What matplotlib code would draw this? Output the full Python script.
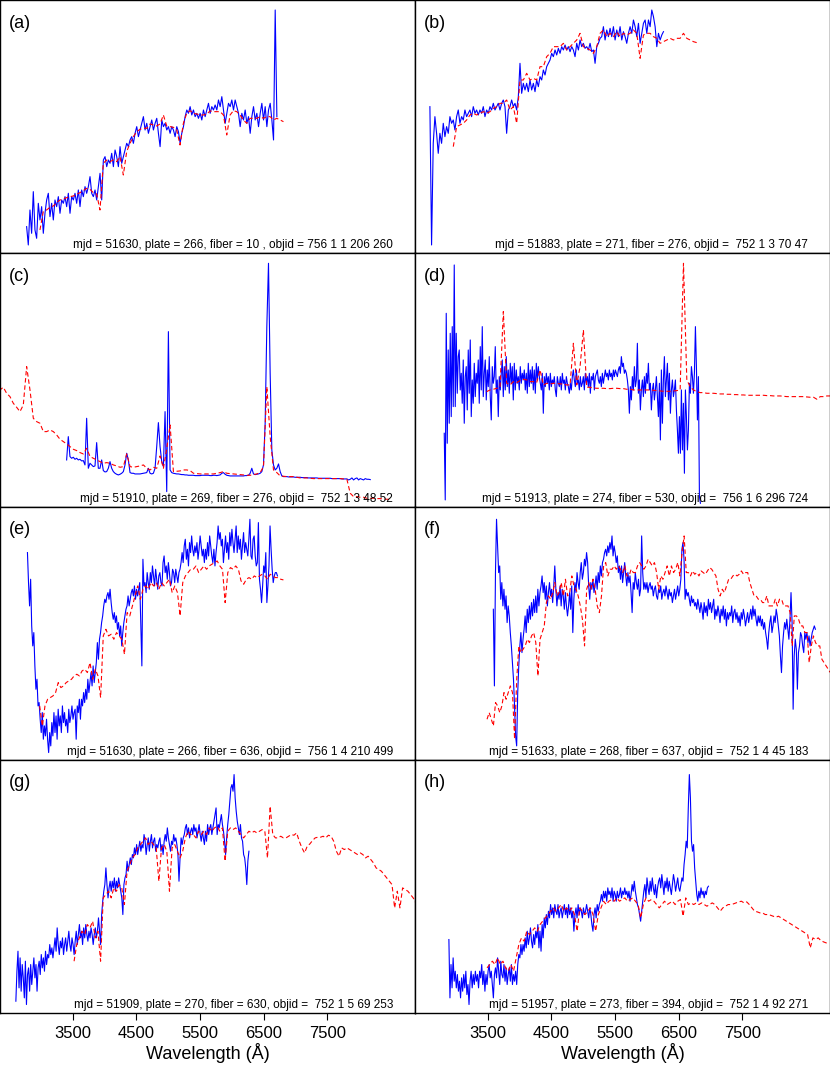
import numpy as np
import matplotlib.pyplot as plt

plt.rcParams['font.family'] = ['Liberation Sans', 'DejaVu Sans']

# Spectra: blue = observed, red = template. Flux in arbitrary units,
# wavelength grid given by start (Angstrom) and step per pixel sample.

# (a)
a_blue_start, a_blue_step = 2777, 26.19
a_blue = [80, 25, 130, 60, 185, 70, 45, 150, 100, 140, 60, 120, 160, 180, 110, 150, 100, 160, 140, 170,
          120, 160, 150, 170, 140, 180, 120, 170, 160, 180, 150, 190, 140, 190, 170, 200, 180, 200, 230, 180,
          170, 190, 160, 200, 240, 160, 280, 290, 260, 280, 270, 300, 260, 310, 290, 260, 320, 270, 290, 310,
          330, 320, 340, 350, 330, 360, 380, 350, 370, 390, 410, 370, 390, 360, 380, 400, 370, 390, 405, 360,
          320, 400, 380, 390, 370, 380, 360, 380, 370, 350, 380, 365, 330, 360, 380, 410, 430, 420, 440, 415,
          430, 410, 420, 405, 420, 400, 430, 410, 430, 450, 420, 440, 430, 445, 430, 460, 440, 470, 430, 390,
          420, 450, 440, 460, 430, 460, 440, 420, 380, 420, 400, 430, 390, 410, 360, 410, 440, 400, 420, 380,
          420, 450, 400, 440, 380, 430, 450, 400, 340, 730, 410]
a_red_start, a_red_step = 2986, 52.37
a_red = [70, 125, 130, 138, 142, 152, 160, 162, 167, 170, 172, 177, 182, 188, 195, 192, 182, 178, 130, 270,
         280, 275, 280, 275, 290, 235, 305, 330, 350, 365, 372, 375, 375, 388, 385, 382, 388, 415, 382, 380,
         378, 370, 325, 390, 420, 428, 420, 418, 415, 415, 418, 427, 425, 425, 425, 415, 355, 415, 428, 425,
         415, 400, 390, 405, 405, 405, 410, 405, 410, 410, 400, 405, 400, 395]

# (b)
b_blue_start, b_blue_step = 2593, 26.19
b_blue = [440, 25, 330, 410, 360, 300, 360, 330, 390, 350, 380, 360, 410, 390, 400, 370, 410, 430, 390, 410,
          400, 430, 410, 420, 430, 410, 440, 420, 430, 415, 430, 420, 440, 410, 430, 420, 440, 430, 450, 430,
          440, 450, 430, 450, 460, 440, 360, 430, 440, 460, 440, 450, 430, 470, 570, 480, 510, 490, 510, 485,
          520, 490, 510, 485, 520, 500, 530, 520, 550, 535, 560, 570, 580, 600, 590, 610, 595, 615, 600, 620,
          610, 625, 610, 620, 605, 620, 610, 590, 630, 610, 640, 620, 630, 615, 620, 610, 630, 605, 610, 570,
          620, 630, 645, 650, 680, 640, 670, 650, 675, 650, 680, 640, 670, 650, 680, 640, 665, 650, 630, 660,
          680, 660, 700, 680, 650, 690, 630, 660, 690, 700, 660, 700, 680, 730, 710, 680, 620, 660, 640, 655,
          665]
b_red_start, b_red_step = 2960, 52.37
b_red = [320, 380, 385, 390, 400, 415, 420, 415, 420, 425, 420, 425, 435, 440, 450, 450, 460, 430, 440, 390,
         520, 520, 540, 520, 525, 520, 560, 560, 590, 600, 620, 620, 620, 630, 610, 620, 630, 640, 660, 620,
         615, 610, 600, 620, 660, 670, 650, 660, 650, 665, 650, 660, 655, 660, 670, 660, 585, 655, 660, 660,
         650, 645, 630, 635, 640, 645, 640, 645, 645, 660, 645, 640, 635, 632]

# (c)
c_blue_start, c_blue_step = 3405, 26.19
c_blue = [140, 210, 150, 145, 148, 142, 145, 140, 142, 137, 138, 125, 265, 115, 130, 125, 120, 122, 192, 115,
          115, 140, 108, 104, 105, 115, 135, 115, 105, 100, 97, 95, 97, 100, 105, 125, 160, 140, 102, 100,
          100, 98, 98, 98, 98, 99, 100, 101, 102, 115, 100, 98, 100, 115, 180, 252, 180, 135, 120, 285,
          45, 525, 110, 102, 100, 99, 98, 98, 97, 96, 96, 95, 95, 94, 94, 94, 94, 93, 93, 93,
          93, 94, 94, 94, 94, 94, 93, 93, 94, 94, 93, 94, 95, 100, 102, 97, 94, 93, 92, 92,
          92, 92, 92, 92, 92, 92, 92, 93, 93, 94, 100, 115, 98, 96, 97, 98, 100, 105, 125, 250,
          540, 730, 400, 170, 125, 110, 115, 128, 105, 92, 90, 90, 90, 89, 89, 89, 89, 88, 88, 88,
          88, 87, 87, 87, 87, 86, 86, 86, 86, 86, 86, 85, 85, 85, 85, 85, 85, 85, 85, 84,
          84, 84, 84, 84, 84, 83, 83, 83, 83, 80, 82, 86, 80, 84, 86, 80, 84, 82, 80, 84,
          82, 82, 81]
c_red_start, c_red_step = 2306, 52.37
c_red = [355, 350, 358, 340, 330, 310, 298, 285, 305, 420, 350, 265, 255, 250, 225, 225, 230, 225, 215, 202,
         195, 188, 180, 172, 168, 162, 158, 175, 150, 145, 140, 135, 130, 132, 130, 125, 122, 118, 120, 158,
         120, 118, 120, 122, 125, 115, 110, 118, 115, 152, 115, 175, 245, 105, 106, 107, 110, 110, 108, 100,
         99, 98, 98, 98, 98, 98, 100, 102, 105, 100, 99, 98, 97, 96, 95, 94, 94, 96, 98, 102,
         120, 360, 210, 110, 102, 92, 91, 90, 90, 90, 88, 86, 86, 86, 85, 84, 84, 84, 84, 84,
         84, 84, 84, 84, 83, 82, 40, 30, 30, 28, 28, 25, 25, 25, 24, 24, 23, 22, 22]

# (d)
d_blue_start, d_blue_step = 2818, 15.71
d_blue = [220, 20, 580, 190, 470, 250, 520, 270, 540, 300, 725, 300, 520, 340, 450, 470, 350, 400, 310, 440,
          250, 390, 420, 290, 470, 340, 500, 270, 380, 310, 430, 330, 400, 370, 440, 310, 480, 350, 540, 330,
          400, 440, 320, 410, 360, 450, 330, 260, 420, 370, 390, 480, 340, 380, 270, 390, 350, 400, 440, 330,
          420, 350, 450, 360, 410, 340, 430, 370, 420, 320, 430, 350, 410, 370, 390, 350, 420, 370, 400, 380,
          410, 350, 400, 340, 430, 360, 410, 370, 420, 350, 410, 340, 430, 380, 420, 390, 370, 350, 400, 280,
          390, 360, 400, 370, 390, 350, 400, 360, 380, 370, 390, 350, 330, 390, 370, 360, 390, 350, 400, 370,
          380, 350, 390, 370, 360, 340, 370, 350, 390, 410, 380, 360, 410, 370, 380, 350, 390, 360, 370, 390,
          350, 400, 370, 390, 360, 400, 340, 390, 380, 400, 350, 390, 400, 410, 380, 370, 390, 360, 400, 370,
          390, 410, 390, 400, 380, 410, 390, 400, 380, 410, 390, 410, 400, 390, 410, 420, 400, 450, 420, 430,
          400, 410, 400, 380, 350, 280, 360, 320, 390, 350, 420, 360, 380, 490, 340, 380, 290, 350, 380, 330,
          390, 340, 400, 370, 430, 350, 370, 290, 350, 370, 320, 350, 390, 330, 270, 370, 200, 410, 250, 380,
          450, 330, 380, 430, 320, 400, 280, 350, 380, 330, 350, 380, 290, 230, 160, 270, 160, 350, 170, 310,
          100, 350, 270, 170, 230, 370, 340, 420, 390, 340, 400, 540, 420, 260, 390, 30, 10]
d_red_start, d_red_step = 3484, 52.37
d_red = [345, 350, 352, 355, 358, 585, 370, 365, 375, 372, 378, 382, 380, 375, 375, 372, 410, 365, 370, 368,
         370, 370, 368, 368, 365, 365, 490, 365, 420, 530, 358, 358, 356, 355, 355, 355, 354, 354, 355, 355,
         354, 354, 352, 352, 350, 350, 350, 350, 350, 350, 349, 348, 347, 346, 346, 346, 347, 348, 350, 730,
         380, 360, 350, 345, 342, 342, 340, 340, 340, 339, 338, 338, 337, 337, 336, 336, 335, 335, 334, 334,
         334, 334, 334, 334, 333, 333, 332, 332, 332, 331, 330, 330, 330, 330, 330, 330, 329, 328, 328, 322,
         330, 330, 332, 332, 332]

# (e)
e_blue_start, e_blue_step = 2790, 16.63
e_blue = [622, 532, 462, 542, 402, 342, 382, 282, 212, 242, 162, 172, 122, 82, 142, 62, 102, 72, 122, 62,
          22, 82, 42, 112, 72, 142, 82, 132, 62, 152, 102, 132, 82, 162, 112, 142, 102, 122, 82, 152,
          112, 132, 162, 122, 142, 152, 62, 162, 142, 182, 122, 182, 162, 202, 172, 212, 182, 242, 202, 232,
          262, 222, 282, 232, 262, 292, 352, 302, 362, 382, 412, 432, 462, 482, 472, 492, 502, 482, 512, 472,
          442, 422, 442, 412, 432, 392, 412, 372, 402, 342, 382, 412, 432, 452, 462, 492, 462, 482, 502, 512,
          492, 522, 482, 512, 492, 512, 532, 412, 282, 602, 522, 532, 502, 562, 532, 512, 562, 532, 582, 552,
          522, 572, 542, 512, 552, 562, 532, 522, 592, 612, 562, 582, 542, 592, 562, 522, 532, 572, 562, 532,
          572, 552, 532, 562, 572, 592, 622, 592, 642, 662, 602, 632, 582, 652, 622, 672, 632, 612, 642, 622,
          652, 602, 632, 672, 642, 612, 632, 592, 632, 602, 652, 612, 672, 642, 612, 592, 632, 582, 622, 652,
          702, 662, 682, 642, 662, 592, 632, 672, 622, 652, 602, 682, 642, 692, 652, 622, 662, 702, 622, 672,
          632, 662, 602, 642, 682, 622, 652, 632, 612, 662, 722, 612, 602, 662, 672, 612, 582, 592, 712, 542,
          512, 472, 522, 582, 562, 622, 472, 522, 582, 702, 632, 572, 532, 552, 562, 562, 552]
e_red_start, e_red_step = 2982, 41.59
e_red = [162, 102, 162, 182, 187, 192, 202, 232, 217, 222, 232, 237, 242, 252, 257, 252, 267, 272, 262, 292,
         242, 272, 252, 187, 372, 392, 372, 377, 362, 382, 372, 362, 317, 442, 432, 462, 492, 522, 482, 512,
         522, 512, 532, 522, 532, 512, 532, 522, 532, 542, 502, 522, 502, 432, 532, 552, 562, 572, 572, 582,
         562, 572, 582, 572, 582, 587, 592, 597, 582, 572, 472, 562, 577, 572, 582, 572, 537, 527, 542, 547,
         542, 552, 547, 552, 557, 552, 542, 557, 552, 547, 547, 542, 540]

# (f)
f_blue_start, f_blue_step = 3589, 16.63
f_blue = [452, 222, 562, 722, 642, 562, 582, 482, 532, 462, 512, 452, 492, 412, 462, 432, 382, 342, 292, 242,
          162, 72, 42, 202, 282, 342, 382, 322, 362, 392, 432, 382, 452, 412, 462, 422, 472, 432, 482, 442,
          492, 442, 512, 462, 502, 522, 552, 502, 532, 482, 522, 462, 502, 532, 492, 512, 472, 522, 582, 512,
          462, 502, 482, 522, 462, 512, 492, 452, 502, 462, 432, 462, 502, 452, 522, 382, 482, 532, 502, 562,
          532, 512, 562, 592, 542, 562, 602, 582, 622, 592, 522, 482, 532, 512, 542, 502, 522, 552, 512, 562,
          532, 582, 552, 592, 602, 622, 632, 612, 642, 622, 652, 632, 672, 612, 642, 622, 592, 612, 562, 582,
          542, 582, 532, 562, 592, 552, 522, 562, 532, 552, 502, 442, 532, 512, 562, 532, 512, 542, 492, 512,
          672, 562, 512, 532, 512, 532, 502, 522, 532, 512, 522, 492, 512, 522, 492, 482, 512, 502, 522, 482,
          502, 512, 492, 522, 502, 482, 512, 492, 502, 472, 492, 512, 482, 502, 522, 492, 512, 542, 632, 652,
          602, 482, 512, 492, 502, 482, 462, 492, 472, 482, 462, 472, 452, 482, 462, 442, 472, 452, 422, 472,
          442, 462, 432, 482, 452, 472, 442, 462, 482, 422, 452, 432, 462, 442, 412, 452, 432, 462, 422, 452,
          402, 442, 422, 442, 432, 462, 412, 442, 452, 422, 442, 412, 432, 402, 442, 422, 452, 432, 402, 422,
          442, 412, 432, 452, 422, 462, 432, 452, 422, 402, 432, 412, 432, 402, 422, 392, 412, 382, 362, 332,
          382, 412, 432, 382, 402, 432, 412, 452, 432, 402, 372, 312, 262, 342, 382, 412, 392, 422, 392, 362,
          422, 502, 412, 152, 312, 362, 332, 212, 322, 342, 382, 372, 342, 322, 382, 362, 382, 352, 372, 342,
          362, 382, 392, 402, 392]
f_red_start, f_red_step = 3490, 33.27
f_red = [122, 142, 122, 102, 172, 162, 142, 162, 202, 182, 202, 222, 202, 62, 242, 342, 322, 332, 342, 362,
         352, 372, 382, 352, 252, 362, 382, 402, 472, 492, 482, 502, 532, 492, 502, 532, 492, 542, 492, 502,
         552, 522, 512, 492, 462, 422, 342, 512, 532, 512, 542, 512, 462, 442, 492, 582, 592, 552, 572, 572,
         582, 572, 582, 572, 562, 582, 552, 552, 572, 562, 562, 582, 592, 582, 572, 582, 602, 592, 582, 592,
         562, 512, 552, 542, 562, 582, 552, 582, 562, 572, 592, 552, 622, 672, 562, 562, 552, 567, 557, 562,
         552, 567, 562, 557, 567, 577, 572, 562, 552, 512, 492, 512, 502, 522, 542, 542, 552, 557, 552, 557,
         567, 557, 562, 562, 532, 512, 492, 492, 482, 482, 472, 472, 492, 462, 462, 462, 482, 462, 482, 482,
         462, 462, 462, 442, 342, 432, 432, 422, 402, 402, 382, 382, 292, 342, 372, 352, 342, 342, 302, 292,
         282, 272, 262]

# (g)
g_blue_start, g_blue_step = 2608, 16.63
g_blue = [36, 126, 186, 76, 166, 66, 146, 106, 46, 156, 26, 116, 136, 66, 146, 86, 126, 166, 106, 146,
          66, 136, 156, 116, 176, 136, 166, 126, 186, 146, 176, 166, 206, 176, 196, 166, 196, 226, 186, 256,
          206, 176, 216, 196, 226, 176, 206, 226, 186, 216, 246, 206, 186, 226, 206, 176, 216, 246, 206, 236,
          266, 226, 246, 206, 256, 226, 266, 236, 216, 246, 226, 256, 236, 206, 236, 256, 226, 246, 286, 246,
          206, 296, 336, 366, 386, 436, 386, 346, 376, 396, 366, 396, 376, 406, 366, 396, 376, 406, 386, 366,
          346, 296, 386, 406, 416, 456, 426, 446, 466, 446, 476, 466, 496, 476, 506, 476, 496, 516, 486, 506,
          496, 536, 516, 476, 506, 526, 486, 516, 536, 496, 516, 526, 486, 506, 496, 516, 526, 486, 506, 476,
          516, 536, 516, 556, 526, 506, 486, 516, 506, 536, 516, 526, 506, 476, 396, 466, 526, 506, 526, 536,
          556, 566, 536, 556, 526, 546, 556, 536, 566, 546, 556, 526, 546, 566, 536, 516, 546, 526, 506, 546,
          516, 566, 536, 556, 566, 536, 556, 576, 596, 616, 536, 566, 556, 576, 596, 566, 546, 516, 476, 526,
          566, 596, 636, 676, 686, 666, 716, 646, 606, 576, 556, 536, 566, 526, 516, 476, 466, 436, 386, 456,
          486]
g_red_start, g_red_step = 3522, 41.59
g_red = [156, 206, 226, 246, 236, 266, 256, 276, 226, 246, 156, 346, 356, 366, 346, 376, 366, 386, 376, 326,
         426, 446, 466, 476, 496, 506, 516, 526, 506, 516, 506, 496, 396, 496, 506, 486, 366, 496, 506, 486,
         466, 486, 526, 546, 536, 536, 526, 546, 536, 546, 536, 556, 546, 556, 561, 546, 556, 456, 546, 556,
         551, 556, 546, 536, 526, 536, 546, 541, 546, 541, 546, 551, 546, 466, 621, 536, 526, 526, 531, 526,
         526, 531, 536, 534, 541, 516, 496, 481, 501, 508, 518, 526, 528, 528, 531, 526, 534, 531, 516, 486,
         471, 496, 491, 496, 491, 486, 481, 476, 481, 476, 466, 471, 461, 451, 436, 431, 426, 416, 406, 396,
         386, 316, 366, 316, 376, 371, 366, 356, 346, 331]

# (h)
h_blue_start, h_blue_step = 2891, 16.63
h_blue = [221, 46, 146, 76, 166, 96, 126, 76, 116, 66, 96, 46, 106, 66, 116, 76, 126, 56, 86, 26,
          96, 126, 76, 116, 86, 126, 96, 116, 76, 126, 106, 146, 86, 126, 66, 116, 86, 126, 146, 106,
          126, 86, 46, 116, 136, 106, 166, 126, 86, 156, 116, 106, 146, 96, 136, 86, 116, 136, 96, 146,
          86, 116, 96, 126, 86, 146, 176, 166, 206, 176, 206, 186, 226, 196, 246, 206, 226, 256, 216, 196,
          236, 206, 246, 226, 266, 196, 246, 186, 266, 226, 286, 256, 296, 266, 306, 286, 326, 296, 316, 286,
          326, 306, 296, 326, 286, 306, 316, 286, 306, 326, 296, 316, 286, 326, 296, 316, 286, 306, 246, 296,
          316, 286, 326, 296, 316, 306, 286, 316, 296, 306, 326, 306, 286, 316, 296, 266, 246, 296, 316, 286,
          326, 306, 326, 336, 356, 336, 366, 346, 366, 336, 376, 356, 366, 346, 376, 336, 366, 356, 336, 366,
          346, 356, 376, 346, 366, 356, 376, 356, 366, 346, 366, 336, 356, 386, 366, 396, 366, 346, 326, 316,
          296, 276, 306, 336, 366, 386, 346, 406, 376, 356, 396, 366, 406, 376, 356, 386, 346, 376, 396, 406,
          376, 416, 386, 356, 396, 376, 406, 366, 396, 376, 356, 386, 416, 396, 366, 386, 406, 376, 366, 386,
          406, 396, 446, 476, 516, 496, 616, 716, 646, 516, 486, 506, 436, 396, 356, 336, 366, 346, 376, 356,
          366, 346, 366, 356, 376, 381]
h_red_start, h_red_step = 3490, 41.59
h_red = [136, 146, 156, 146, 166, 146, 156, 136, 126, 146, 126, 166, 206, 226, 216, 246, 236, 246, 256, 246,
         266, 276, 286, 296, 306, 316, 306, 316, 326, 306, 316, 306, 316, 296, 246, 316, 306, 296, 306, 316,
         296, 246, 296, 316, 336, 326, 336, 341, 336, 346, 336, 341, 346, 336, 341, 346, 336, 326, 286, 326,
         346, 336, 341, 336, 326, 316, 326, 336, 326, 331, 336, 326, 336, 341, 291, 346, 326, 331, 326, 331,
         326, 331, 326, 321, 326, 331, 326, 316, 306, 316, 321, 326, 326, 328, 331, 334, 336, 331, 334, 326,
         316, 306, 304, 301, 301, 296, 296, 294, 291, 288, 291, 286, 281, 276, 271, 266, 261, 256, 251, 246,
         241, 236, 196, 226, 221, 226, 218, 214, 211, 206]

labels = ['(a)', '(b)', '(c)', '(d)', '(e)', '(f)', '(g)', '(h)']
infos = ['mjd = 51630, plate = 266, fiber = 10 , objid = 756 1 1 206 260',
         'mjd = 51883, plate = 271, fiber = 276, objid =  752 1 3 70 47',
         'mjd = 51910, plate = 269, fiber = 276, objid =  752 1 3 48 52',
         'mjd = 51913, plate = 274, fiber = 530, objid =  756 1 6 296 724',
         'mjd = 51630, plate = 266, fiber = 636, objid =  756 1 4 210 499',
         'mjd = 51633, plate = 268, fiber = 637, objid =  752 1 4 45 183',
         'mjd = 51909, plate = 270, fiber = 630, objid =  752 1 5 69 253',
         'mjd = 51957, plate = 273, fiber = 394, objid =  752 1 4 92 271']
xticks = [3500, 4500, 5500, 6500, 7500]

blues = [(a_blue_start, a_blue_step, a_blue), (b_blue_start, b_blue_step, b_blue),
         (c_blue_start, c_blue_step, c_blue), (d_blue_start, d_blue_step, d_blue),
         (e_blue_start, e_blue_step, e_blue), (f_blue_start, f_blue_step, f_blue),
         (g_blue_start, g_blue_step, g_blue), (h_blue_start, h_blue_step, h_blue)]
reds = [(a_red_start, a_red_step, a_red), (b_red_start, b_red_step, b_red),
        (c_red_start, c_red_step, c_red), (d_red_start, d_red_step, d_red),
        (e_red_start, e_red_step, e_red), (f_red_start, f_red_step, f_red),
        (g_red_start, g_red_step, g_red), (h_red_start, h_red_step, h_red)]

fig = plt.figure(figsize=(8.3, 10.7), dpi=100)
row_h = 253.3 / 1070

for i in range(8):
    r, c = divmod(i, 2)
    ax = fig.add_axes([c * 0.5, 1 - (r + 1) * row_h, 0.5, row_h])

    start, step, flux = blues[i]
    lam = start + step * np.arange(len(flux))
    ax.plot(lam, flux, color='#0000ff', lw=0.8)

    start, step, flux = reds[i]
    lam = start + step * np.arange(len(flux))
    ax.plot(lam, flux, color='#ff0000', lw=0.8, ls=(0, (4, 2.5)))

    ax.set_xlim(2359, 8874)
    ax.set_ylim(0, 760)
    ax.set_yticks([])
    for s in ax.spines.values():
        s.set_linewidth(1.0)

    if r == 3:
        ax.set_xticks(xticks)
        ax.tick_params(axis='x', direction='out', length=5, width=0.8, pad=4, labelsize=12)
        ax.set_xlabel('Wavelength (Å)', fontsize=13, labelpad=2)
    else:
        ax.set_xticks([])

    ax.text(0.022, 0.909, labels[i], transform=ax.transAxes, fontsize=13, va='center')
    ax.text(0.947, 0.02, infos[i], transform=ax.transAxes, ha='right', va='baseline', fontsize=8.5)

fig.savefig('out.png', dpi=100)
